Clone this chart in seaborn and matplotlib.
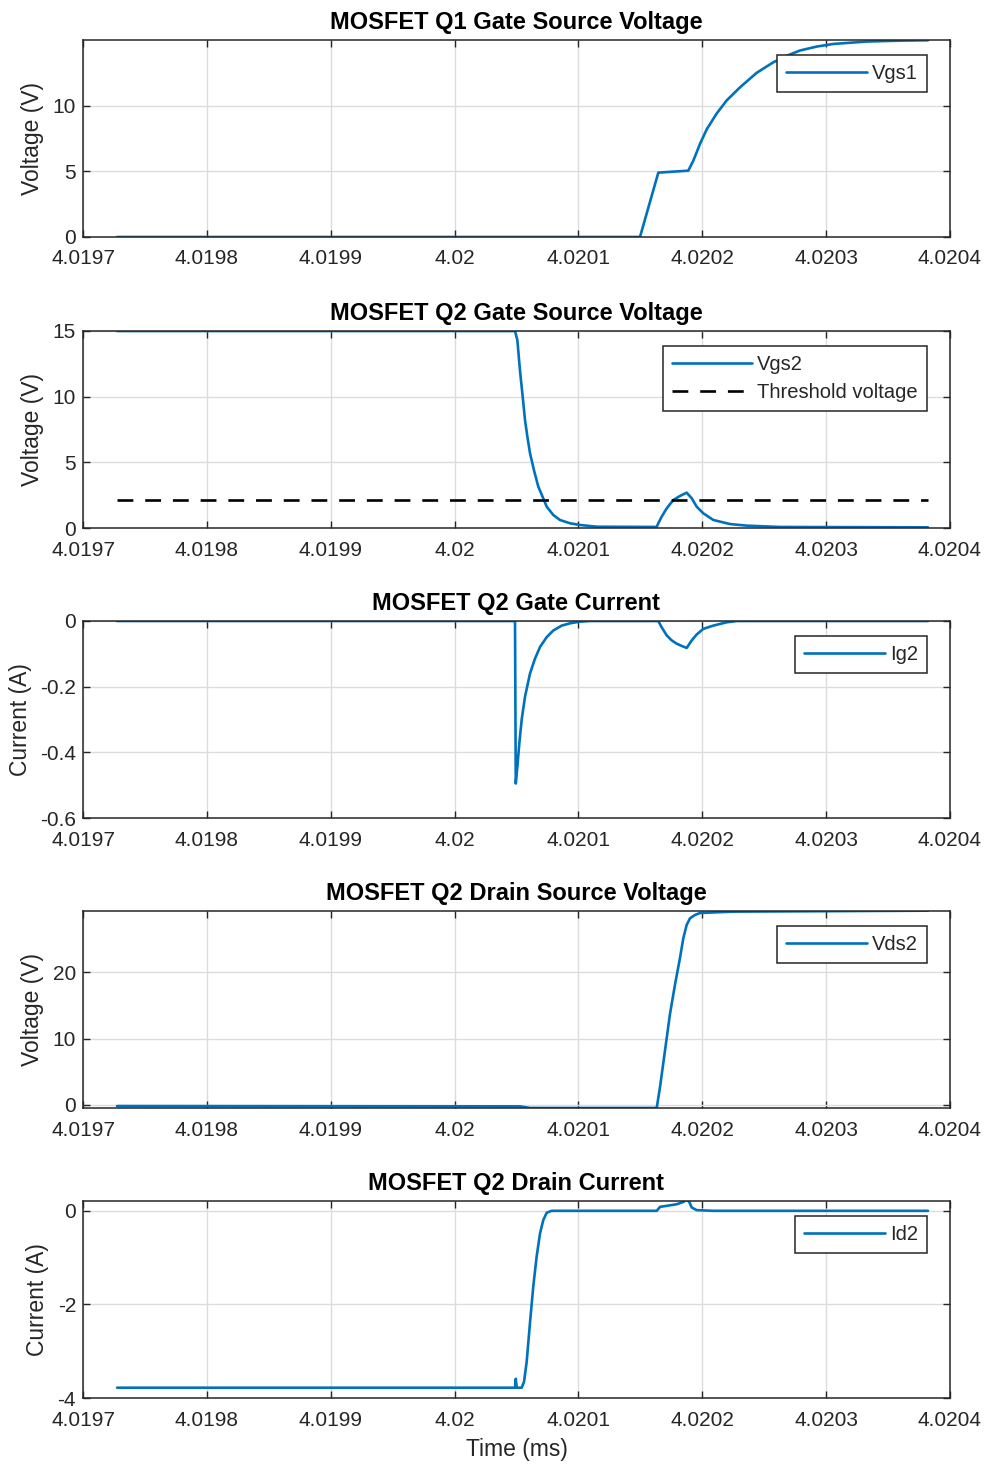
import matplotlib
matplotlib.use("Agg")
import matplotlib.pyplot as plt
import seaborn as sns
import pandas as pd

# ---------------- data (time in ms) ----------------
x_ticks = [4.0197, 4.0198, 4.0199, 4.0200, 4.0201, 4.0202, 4.0203, 4.0204]
x_tick_labels = ["4.0197", "4.0198", "4.0199", "4.02", "4.0201", "4.0202", "4.0203", "4.0204"]

vgs1_t = [4.0197275, 4.0201497, 4.0201645, 4.0201887, 4.0201927, 4.0201982, 4.0202036,
          4.0202116, 4.0202197, 4.0202305, 4.0202439, 4.0202573, 4.0202682, 4.0202789,
          4.0202924, 4.0203058, 4.0203327, 4.0203596, 4.0203822]
vgs1_v = [0, 0, 4.9, 5.05, 5.8, 7.1, 8.2, 9.4, 10.4, 11.4, 12.5, 13.3, 13.8, 14.2,
          14.5, 14.7, 14.88, 14.95, 14.98]

vgs2_t = [4.0197275, 4.0200488, 4.0200507, 4.0200528, 4.0200550, 4.0200569, 4.0200587,
          4.0200609, 4.0200641, 4.0200676, 4.0200716, 4.0200744, 4.0200797, 4.0200851,
          4.0200932, 4.0201013, 4.0201148, 4.0201632, 4.0201645, 4.0201672, 4.0201713,
          4.0201766, 4.0201820, 4.0201874, 4.0201915, 4.0201955, 4.0202008, 4.0202089,
          4.0202224, 4.0202359, 4.0202627, 4.0203822]
vgs2_v = [15, 15, 14.3, 12.0, 10.0, 8.2, 7.0, 5.7, 4.4, 3.15, 2.26, 1.62, 0.99, 0.61,
          0.36, 0.23, 0.1, 0.08, 0.36, 0.86, 1.5, 2.13, 2.44, 2.69, 2.26, 1.62, 1.12,
          0.61, 0.3, 0.18, 0.08, 0.05]

thr_t = [4.0197275, 4.0203822]
thr_v = [2.1, 2.1]

ig2_t = [4.0197275, 4.0200488, 4.0200494, 4.0200507, 4.0200523, 4.0200542, 4.0200569,
         4.0200609, 4.0200649, 4.0200690, 4.0200744, 4.0200797, 4.0200865, 4.0200932,
         4.0201013, 4.0201093, 4.0201645, 4.0201672, 4.0201713, 4.0201753, 4.0201793,
         4.0201834, 4.0201874, 4.0201915, 4.0201955, 4.0202008, 4.0202089, 4.0202197,
         4.0202278, 4.0203822]
ig2_i = [0, 0, -0.495, -0.443, -0.372, -0.30, -0.23, -0.16, -0.115, -0.079, -0.049,
         -0.029, -0.014, -0.007, -0.002, 0, 0, -0.019, -0.044, -0.059, -0.069, -0.076,
         -0.082, -0.059, -0.041, -0.024, -0.014, -0.004, 0, 0]

vds2_t = [4.0197275, 4.0200528, 4.0200609, 4.0201632, 4.0201659, 4.0201699, 4.0201739,
          4.0201780, 4.0201820, 4.0201847, 4.0201874, 4.0201901, 4.0201941, 4.0201982,
          4.0202248, 4.0203822]
vds2_v = [-0.2, -0.25, -0.5, -0.5, 2.7, 8.2, 13.7, 18.2, 22.2, 25.2, 27.2, 28.2, 28.7,
          29.0, 29.2, 29.35]

id2_t = [4.0197275, 4.0200472, 4.0200488, 4.0200494, 4.0200502, 4.0200542, 4.0200561,
         4.0200582, 4.0200609, 4.0200636, 4.0200663, 4.0200690, 4.0200716, 4.0200744,
         4.0200784, 4.0201632, 4.0201659, 4.0201713, 4.0201793, 4.0201847, 4.0201874,
         4.0201895, 4.0201915, 4.0201955, 4.0202089, 4.0203822]
id2_i = [-3.78, -3.78, -3.78, -3.59, -3.78, -3.78, -3.65, -3.23, -2.39, -1.6, -0.97,
         -0.48, -0.2, -0.04, 0, 0, 0.085, 0.107, 0.14, 0.19, 0.24, 0.19, 0.07, 0.015, 0, 0]

titles = ["MOSFET Q1 Gate Source Voltage", "MOSFET Q2 Gate Source Voltage",
          "MOSFET Q2 Gate Current", "MOSFET Q2 Drain Source Voltage",
          "MOSFET Q2 Drain Current"]
ylabels = ["Voltage (V)", "Voltage (V)", "Current (A)", "Voltage (V)", "Current (A)"]
yticks_list = [[0, 5, 10], [0, 5, 10, 15], [-0.6, -0.4, -0.2, 0], [0, 10, 20], [-4, -2, 0]]
yticklabels_list = [["0", "5", "10"], ["0", "5", "10", "15"],
                    ["-0.6", "-0.4", "-0.2", "0"], ["0", "10", "20"], ["-4", "-2", "0"]]
ylims = [(0, 15), (0, 15), (-0.6, 0), (-0.5, 29.3), (-4, 0.21)]

# ---------------- style ----------------
sns.set_theme(style="whitegrid")
plt.rcParams['font.family'] = ['Liberation Sans', 'DejaVu Sans']
plt.rcParams['axes.unicode_minus'] = False

BLUE = "#0072BD"
DARK = "#262626"

fig = plt.figure(figsize=(9.89, 14.7), dpi=100)
W, H = 989, 1470
left_px, right_px = 83, 950
tops = [40, 331, 621, 911, 1201]
ax_h = 197

series = [
    [(vgs1_t, vgs1_v, "Vgs1", BLUE, "-")],
    [(vgs2_t, vgs2_v, "Vgs2", BLUE, "-"), (thr_t, thr_v, "Threshold voltage", "black", "--")],
    [(ig2_t, ig2_i, "Ig2", BLUE, "-")],
    [(vds2_t, vds2_v, "Vds2", BLUE, "-")],
    [(id2_t, id2_i, "Id2", BLUE, "-")],
]

for k in range(5):
    top = tops[k]
    ax = fig.add_axes([left_px / W, 1 - (top + ax_h) / H, (right_px - left_px) / W, ax_h / H])
    for (t, v, lab, col, ls) in series[k]:
        df = pd.DataFrame({"t": t, "v": v})
        sns.lineplot(data=df, x="t", y="v", ax=ax, color=col, linewidth=1.9,
                     label=lab, estimator=None, sort=False)
        if ls == "--":
            ax.lines[-1].set_dashes((6.0, 4.5))
    ax.set_xlim(4.0197, 4.0204)
    ax.set_ylim(*ylims[k])
    ax.set_xticks(x_ticks)
    ax.set_xticklabels(x_tick_labels)
    ax.set_yticks(yticks_list[k])
    ax.set_yticklabels(yticklabels_list[k])
    ax.set_title(titles[k], fontsize=17, fontweight="bold", color="black", pad=8)
    ax.set_ylabel(ylabels[k], fontsize=16.5, color=DARK, labelpad=6)
    ax.set_xlabel("Time (ms)" if k == 4 else "", fontsize=16.5, color=DARK, labelpad=6)
    ax.set_facecolor("white")
    ax.grid(True, color="#dcdcdc", linewidth=1.0)
    ax.set_axisbelow(True)
    for s in ax.spines.values():
        s.set_visible(True)
        s.set_color(DARK)
        s.set_linewidth(1.1)
    ax.tick_params(axis="both", which="major", direction="in", length=5, width=1.0,
                   color=DARK, labelcolor=DARK, labelsize=15,
                   top=True, right=True, bottom=True, left=True)
    ax.tick_params(axis="x", pad=9)
    ax.tick_params(axis="y", pad=5)
    handles, labels = ax.get_legend_handles_labels()
    leg = ax.legend(handles, labels, loc="upper right", bbox_to_anchor=(0.9735, 0.925),
                    fontsize=14.5, frameon=True, fancybox=False, framealpha=1,
                    edgecolor=DARK, handlelength=4.0, handletextpad=0.25,
                    borderpad=0.45, labelspacing=0.45, borderaxespad=0.0)
    leg.get_frame().set_linewidth(1.1)
    for txt in leg.get_texts():
        txt.set_color(DARK)

fig.savefig("out.png", dpi=100, facecolor="white")
